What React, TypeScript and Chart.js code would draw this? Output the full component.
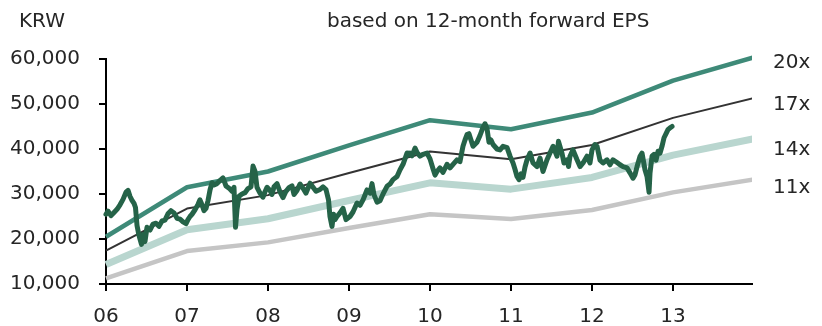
import React, { useEffect, useRef } from 'react';
import { Chart, registerables } from 'chart.js';

Chart.register(...registerables);

// ---- Data ----
const unitLabel = 'KRW';
const titleText = 'based on 12-month forward EPS';

const bandYears = [2006, 2007, 2008, 2009, 2010, 2011, 2012, 2013, 2014];
const band20x = [20500, 31500, 35000, 40800, 46400, 44400, 48100, 55200, 60400];
const band17x = [17425, 26775, 29750, 34680, 39440, 37740, 40885, 46920, 51340];
const band14x = [14350, 22050, 24500, 28560, 32480, 31080, 33670, 38640, 42280];
const band11x = [11275, 17325, 19250, 22440, 25520, 24420, 26455, 30360, 33220];
const bandLabels = ['20x', '17x', '14x', '11x'];

const xTickYears = [2006, 2007, 2008, 2009, 2010, 2011, 2012, 2013];
const xTickLabels = ['06', '07', '08', '09', '10', '11', '12', '13'];
const yTickValues = [10000, 20000, 30000, 40000, 50000, 60000];

const priceDates = [
  2006.000, 2006.025, 2006.062, 2006.099, 2006.136, 2006.173, 2006.210, 2006.247, 2006.272, 2006.296,
  2006.321, 2006.346, 2006.364, 2006.383, 2006.407, 2006.438, 2006.457, 2006.481, 2006.506, 2006.543,
  2006.580, 2006.617, 2006.654, 2006.691, 2006.728, 2006.765, 2006.802, 2006.840, 2006.877, 2006.914,
  2006.951, 2006.988, 2007.012, 2007.037, 2007.062, 2007.099, 2007.136, 2007.160, 2007.185, 2007.210,
  2007.235, 2007.259, 2007.284, 2007.309, 2007.333, 2007.370, 2007.407, 2007.444, 2007.481, 2007.519,
  2007.556, 2007.580, 2007.599, 2007.617, 2007.642, 2007.679, 2007.716, 2007.753, 2007.790, 2007.815,
  2007.840, 2007.864, 2007.901, 2007.938, 2007.963, 2007.988, 2008.025, 2008.049, 2008.074, 2008.111,
  2008.148, 2008.185, 2008.222, 2008.259, 2008.296, 2008.321, 2008.358, 2008.395, 2008.432, 2008.469,
  2008.519, 2008.556, 2008.593, 2008.642, 2008.679, 2008.716, 2008.747, 2008.765, 2008.790, 2008.809,
  2008.827, 2008.852, 2008.889, 2008.926, 2008.963, 2009.012, 2009.049, 2009.099, 2009.136, 2009.173,
  2009.222, 2009.259, 2009.284, 2009.309, 2009.346, 2009.383, 2009.420, 2009.469, 2009.506, 2009.543,
  2009.593, 2009.630, 2009.667, 2009.716, 2009.728, 2009.753, 2009.778, 2009.815, 2009.840, 2009.877,
  2009.914, 2009.963, 2010.000, 2010.037, 2010.062, 2010.086, 2010.123, 2010.160, 2010.210, 2010.247,
  2010.284, 2010.333, 2010.370, 2010.407, 2010.432, 2010.457, 2010.481, 2010.506, 2010.531, 2010.580,
  2010.617, 2010.654, 2010.679, 2010.704, 2010.728, 2010.753, 2010.778, 2010.827, 2010.864, 2010.901,
  2010.951, 2010.988, 2011.025, 2011.049, 2011.074, 2011.099, 2011.123, 2011.148, 2011.173, 2011.198,
  2011.235, 2011.272, 2011.321, 2011.358, 2011.395, 2011.444, 2011.481, 2011.519, 2011.568, 2011.586,
  2011.630, 2011.654, 2011.691, 2011.710, 2011.728, 2011.765, 2011.815, 2011.852, 2011.889, 2011.938,
  2011.975, 2012.000, 2012.037, 2012.062, 2012.099, 2012.136, 2012.185, 2012.222, 2012.259, 2012.309,
  2012.346, 2012.383, 2012.432, 2012.469, 2012.506, 2012.531, 2012.556, 2012.593, 2012.617, 2012.654,
  2012.679, 2012.704, 2012.716, 2012.741, 2012.765, 2012.790, 2012.815, 2012.840, 2012.864, 2012.889,
  2012.914, 2012.938, 2012.963, 2012.988,
];

const priceValues = [
  25500, 26200, 25200, 25900, 26600, 27600, 28800, 30400, 30800, 29500,
  28600, 27900, 27000, 23000, 20800, 18800, 21000, 19400, 22600, 22000,
  23300, 23500, 22800, 24000, 24200, 25600, 26300, 25800, 24600, 24400,
  23800, 23400, 24300, 25000, 25500, 26500, 27700, 28700, 27600, 26300,
  26800, 28500, 30900, 32500, 32000, 32300, 33000, 33600, 31800, 31300,
  30600, 31500, 22600, 26500, 29500, 30000, 30300, 31200, 31600, 36200,
  35000, 31500, 30200, 29300, 30500, 31500, 30800, 29900, 31600, 32300,
  30500, 29200, 30600, 31400, 31800, 29900, 30800, 32200, 31300, 30200,
  32400, 31500, 30600, 31000, 31600, 31000, 28700, 25000, 22800, 25500,
  24300, 25000, 25800, 26800, 24300, 25000, 26000, 28000, 27500, 28700,
  30900, 30200, 32300, 29800, 28200, 28500, 30000, 31700, 32200, 33200,
  33900, 35400, 36600, 39100, 38600, 39100, 38500, 40200, 39200, 38400,
  38800, 39100, 37800, 35600, 34200, 35000, 35800, 34800, 36600, 35800,
  36600, 37600, 37200, 40600, 42000, 43200, 43400, 42000, 40600, 41500,
  43000, 44800, 45600, 44500, 41500, 42000, 41000, 40000, 39800, 40600,
  40300, 38400, 36900, 35500, 33900, 33200, 34500, 33700, 36000, 37600,
  39100, 36900, 36100, 38000, 35000, 37600, 39100, 40600, 38400, 41700,
  39000, 36900, 37600, 36100, 38400, 39800, 37600, 36100, 36900, 38400,
  36900, 39800, 41000, 40600, 37500, 36900, 37600, 36500, 37600, 37000,
  36500, 36100, 35800, 34700, 33500, 34300, 36100, 38400, 39100, 35400,
  33900, 30400, 34700, 38400, 38800, 37500, 39500, 39100, 40600, 42500,
  43400, 44300, 44700, 45000,
];

// ---- Styles ----
const FONT = '"DejaVu Sans", sans-serif';
const TEXT_COLOR = '#262626';
const COLOR_PRICE = '#256348';
const COLOR_20X = '#3e8a78';
const COLOR_17X = '#333333';
const COLOR_14X = '#b9d6cf';
const COLOR_11X = '#c5c5c5';
const labelBaselines = [68, 110, 155, 193];

const toXY = (xs: number[], ys: number[]) => xs.map((x, i) => ({ x, y: ys[i] }));

const textPlugin = {
  id: 'extraTexts',
  afterDraw(chart: any) {
    const ctx = chart.ctx;
    const area = chart.chartArea;
    ctx.save();
    ctx.font = `20px ${FONT}`;
    ctx.fillStyle = TEXT_COLOR;
    ctx.textAlign = 'left';
    ctx.textBaseline = 'alphabetic';
    ctx.fillText(unitLabel, 19, 27);
    ctx.fillText(titleText, 327, 27);
    bandLabels.forEach((lab, i) => {
      ctx.fillText(lab, area.right + 21, labelBaselines[i]);
    });
    ctx.restore();
  },
};

export default function App() {
  const canvasRef = useRef<HTMLCanvasElement | null>(null);

  useEffect(() => {
    if (!canvasRef.current) return;
    const lineBase = {
      pointRadius: 0,
      tension: 0,
      fill: false,
      clip: { left: 10, top: 10, right: 0, bottom: 10 },
      borderCapStyle: 'butt',
      borderJoinStyle: 'round',
    };
    const chart = new Chart(canvasRef.current, {
      type: 'line',
      data: {
        datasets: [
          { ...lineBase, label: 'Price', data: toXY(priceDates, priceValues), borderColor: COLOR_PRICE, borderWidth: 5, borderCapStyle: 'round' },
          { ...lineBase, label: bandLabels[1], data: toXY(bandYears, band17x), borderColor: COLOR_17X, borderWidth: 2 },
          { ...lineBase, label: bandLabels[0], data: toXY(bandYears, band20x), borderColor: COLOR_20X, borderWidth: 4.5 },
          { ...lineBase, label: bandLabels[2], data: toXY(bandYears, band14x), borderColor: COLOR_14X, borderWidth: 7 },
          { ...lineBase, label: bandLabels[3], data: toXY(bandYears, band11x), borderColor: COLOR_11X, borderWidth: 4.5 },
        ] as any,
      },
      options: {
        responsive: false,
        maintainAspectRatio: false,
        animation: false,
        events: [],
        layout: { padding: { top: 59, right: 70, bottom: 0, left: 0 } },
        plugins: { legend: { display: false }, tooltip: { enabled: false }, title: { display: false } },
        scales: {
          x: {
            type: 'linear',
            min: 2006,
            max: 2013.975,
            afterBuildTicks: (scale: any) => {
              scale.ticks = xTickYears.map((v) => ({ value: v }));
            },
            afterFit: (scale: any) => {
              scale.height = 42;
            },
            ticks: {
              autoSkip: false,
              maxRotation: 0,
              padding: 14,
              color: TEXT_COLOR,
              font: { family: FONT, size: 20 },
              callback: (v: any) => {
                const i = xTickYears.indexOf(Number(v));
                return i >= 0 ? xTickLabels[i] : '';
              },
            },
            grid: { drawOnChartArea: false, drawTicks: true, tickLength: 7, color: '#000', lineWidth: 2 },
            border: { display: true, color: '#000', width: 2 },
          },
          y: {
            type: 'linear',
            min: 10000,
            max: 60000,
            afterBuildTicks: (scale: any) => {
              scale.ticks = yTickValues.map((v) => ({ value: v }));
            },
            afterFit: (scale: any) => {
              scale.width = 106;
            },
            ticks: {
              padding: 19,
              color: TEXT_COLOR,
              font: { family: FONT, size: 20 },
              callback: (v: any) => Number(v).toLocaleString('en-US'),
            },
            grid: { drawOnChartArea: false, drawTicks: true, tickLength: 7, color: '#000', lineWidth: 2 },
            border: { display: true, color: '#000', width: 2 },
          },
        },
      } as any,
      plugins: [textPlugin],
    });
    return () => chart.destroy();
  }, []);

  return (
    <div style={{ position: 'fixed', left: 0, top: 0, width: 822, height: 326, background: '#fff' }}>
      <canvas ref={canvasRef} width={822} height={326} style={{ display: 'block' }} />
    </div>
  );
}
